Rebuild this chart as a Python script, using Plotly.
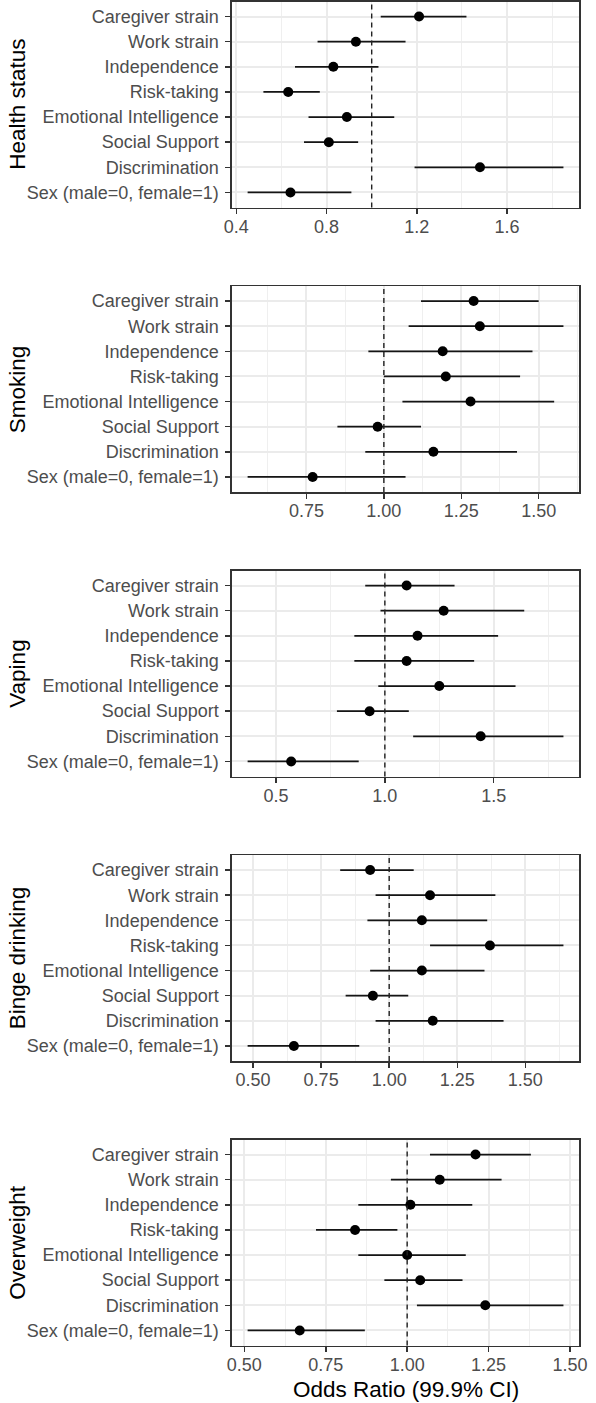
import plotly.graph_objects as go

categories = ["Caregiver strain", "Work strain", "Independence", "Risk-taking",
              "Emotional Intelligence", "Social Support", "Discrimination",
              "Sex (male=0, female=1)"]

outcomes = ["Health status", "Smoking", "Vaping", "Binge drinking", "Overweight"]

# Health status
hs_or = [1.21, 0.93, 0.83, 0.63, 0.89, 0.81, 1.48, 0.64]
hs_lo = [1.04, 0.76, 0.66, 0.52, 0.72, 0.70, 1.19, 0.45]
hs_hi = [1.42, 1.15, 1.03, 0.77, 1.10, 0.94, 1.85, 0.91]
# Smoking
sm_or = [1.29, 1.31, 1.19, 1.20, 1.28, 0.98, 1.16, 0.77]
sm_lo = [1.12, 1.08, 0.95, 1.00, 1.06, 0.85, 0.94, 0.56]
sm_hi = [1.50, 1.58, 1.48, 1.44, 1.55, 1.12, 1.43, 1.07]
# Vaping
va_or = [1.10, 1.27, 1.15, 1.10, 1.25, 0.93, 1.44, 0.57]
va_lo = [0.91, 0.98, 0.86, 0.86, 0.97, 0.78, 1.13, 0.37]
va_hi = [1.32, 1.64, 1.52, 1.41, 1.60, 1.11, 1.82, 0.88]
# Binge drinking
bd_or = [0.93, 1.15, 1.12, 1.37, 1.12, 0.94, 1.16, 0.65]
bd_lo = [0.82, 0.95, 0.92, 1.15, 0.93, 0.84, 0.95, 0.48]
bd_hi = [1.09, 1.39, 1.36, 1.64, 1.35, 1.07, 1.42, 0.89]
# Overweight
ow_or = [1.21, 1.10, 1.01, 0.84, 1.00, 1.04, 1.24, 0.67]
ow_lo = [1.07, 0.95, 0.85, 0.72, 0.85, 0.93, 1.03, 0.51]
ow_hi = [1.38, 1.29, 1.20, 0.97, 1.18, 1.17, 1.48, 0.87]

# tick values / labels per panel
hs_ticks = [0.4, 0.8, 1.2, 1.6]
hs_tlab = ["0.4", "0.8", "1.2", "1.6"]
sm_ticks = [0.75, 1.00, 1.25, 1.50]
sm_tlab = ["0.75", "1.00", "1.25", "1.50"]
va_ticks = [0.5, 1.0, 1.5]
va_tlab = ["0.5", "1.0", "1.5"]
bd_ticks = [0.50, 0.75, 1.00, 1.25, 1.50]
bd_tlab = ["0.50", "0.75", "1.00", "1.25", "1.50"]
ow_ticks = [0.50, 0.75, 1.00, 1.25, 1.50]
ow_tlab = ["0.50", "0.75", "1.00", "1.25", "1.50"]

minor_dticks = [0.2, 0.125, 0.25, 0.125, 0.125]

panels = [
    (hs_or, hs_lo, hs_hi, hs_ticks, hs_tlab),
    (sm_or, sm_lo, sm_hi, sm_ticks, sm_tlab),
    (va_or, va_lo, va_hi, va_ticks, va_tlab),
    (bd_or, bd_lo, bd_hi, bd_ticks, bd_tlab),
    (ow_or, ow_lo, ow_hi, ow_ticks, ow_tlab),
]

W, H = 596, 1403
FONT = "Liberation Sans, Arial, sans-serif"
x_dom = [230 / W, 587 / W]
panel_top0 = 1.5
panel_step = 284.5
panel_h = 206

fig = go.Figure()
layout = dict(width=W, height=H, margin=dict(l=0, r=0, t=0, b=0),
              paper_bgcolor="white", plot_bgcolor="white", showlegend=False,
              font=dict(family=FONT, color="#4D4D4D"))
annotations = []
shapes = []

for i, (orv, lo, hi, ticks, tlab) in enumerate(panels):
    n = "" if i == 0 else str(i + 1)
    xa, ya = "x" + n, "y" + n
    top = panel_top0 + panel_step * i
    bot = top + panel_h
    y_dom = [1 - bot / H, 1 - top / H]

    fig.add_trace(go.Scatter(
        x=orv, y=categories, xaxis=xa, yaxis=ya, mode="markers",
        marker=dict(color="black", size=10, line=dict(width=0)),
        error_x=dict(type="data", symmetric=False,
                     array=[h - o for h, o in zip(hi, orv)],
                     arrayminus=[o - l for o, l in zip(orv, lo)],
                     width=0, thickness=1.7, color="#151515"),
        hoverinfo="skip"))

    lo_min, hi_max = min(lo), max(hi)
    span = hi_max - lo_min
    xr = [lo_min - 0.05 * span, hi_max + 0.05 * span]

    layout["xaxis" + n] = dict(
        domain=x_dom, anchor=ya, range=xr, tickmode="array",
        tickvals=ticks, ticktext=tlab,
        showgrid=True, gridcolor="#EBEBEB", gridwidth=2,
        minor=dict(showgrid=True, gridcolor="#EFEFEF", gridwidth=1,
                   dtick=minor_dticks[i], tick0=0, ticks=""),
        zeroline=False, showline=True, mirror=True, linecolor="#333333",
        linewidth=1.5, ticks="outside", ticklen=5, tickwidth=1.5,
        tickcolor="#333333", tickfont=dict(size=18, color="#4D4D4D", family=FONT),
        ticklabelstandoff=-3, fixedrange=True)
    layout["yaxis" + n] = dict(
        domain=y_dom, anchor=xa, type="category",
        categoryorder="array", categoryarray=categories[::-1],
        range=[-0.6, len(categories) - 1 + 0.6],
        showgrid=True, gridcolor="#EBEBEB", gridwidth=2,
        zeroline=False, showline=True, mirror=True, linecolor="#333333",
        linewidth=1.5, ticks="outside", ticklen=5, tickwidth=1.5,
        tickcolor="#333333", tickfont=dict(size=18, color="#4D4D4D", family=FONT),
        ticklabelstandoff=3, fixedrange=True)

    shapes.append(dict(type="line", xref=xa, yref=ya + " domain",
                       x0=1, x1=1, y0=0, y1=1,
                       line=dict(color="#222222", width=1.4, dash="5px,4px"),
                       layer="above"))

    annotations.append(dict(text=outcomes[i], textangle=-90, showarrow=False,
                            xref="paper", yref="paper", x=9.5 / W,
                            y=1 - (top + bot) / 2 / H, xanchor="center",
                            yanchor="middle",
                            font=dict(size=22.5, color="black", family=FONT)))

annotations.append(dict(text="Odds Ratio (99.9% CI)", showarrow=False,
                        xref="paper", yref="paper",
                        x=(x_dom[0] + x_dom[1]) / 2, y=0,
                        xanchor="center", yanchor="bottom", borderpad=0,
                        font=dict(size=22.5, color="black", family=FONT)))

layout["annotations"] = annotations
layout["shapes"] = shapes
fig.update_layout(**layout)
fig.write_html("out.html",
               config={"displayModeBar": False, "staticPlot": True},
               post_script="document.body.style.margin='0px';"
                           "document.body.style.overflow='hidden';")
